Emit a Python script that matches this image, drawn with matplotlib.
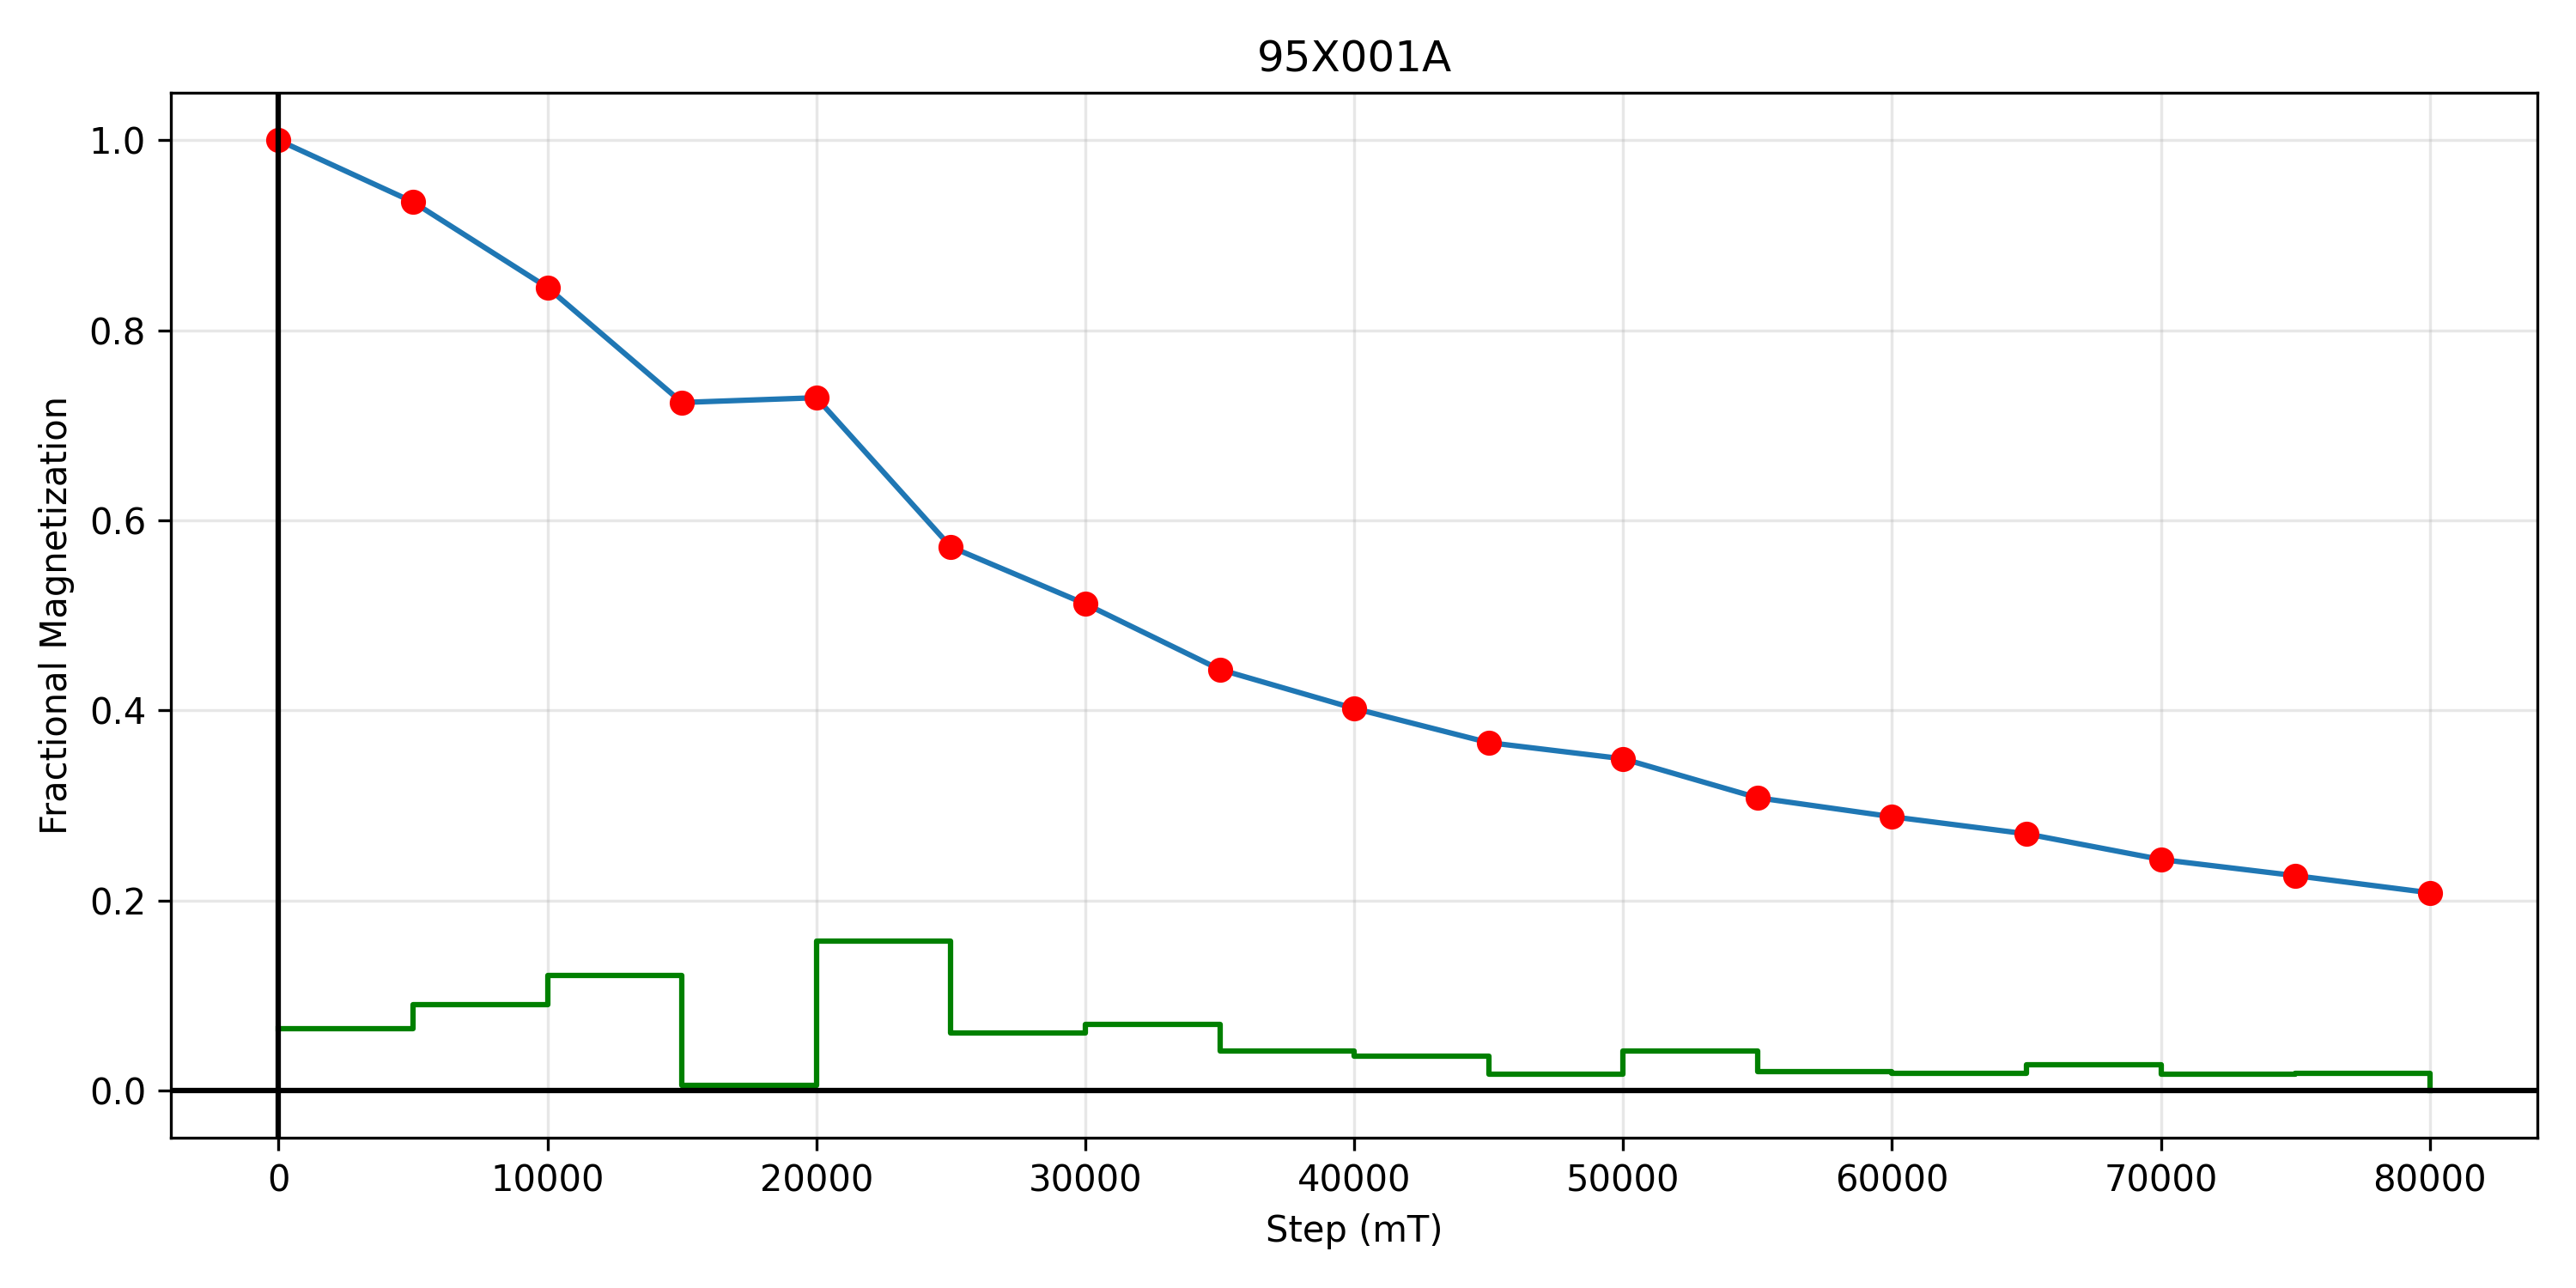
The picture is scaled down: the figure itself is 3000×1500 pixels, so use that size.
import numpy as np
import matplotlib
matplotlib.use("Agg")
import matplotlib.pyplot as plt

specimen = "95X001A"
steps = [0, 5000, 10000, 15000, 20000, 25000, 30000, 35000, 40000,
         45000, 50000, 55000, 60000, 65000, 70000, 75000, 80000]
frac_mag = [1.0, 0.935, 0.845, 0.724, 0.729, 0.572, 0.512, 0.443, 0.402,
            0.366, 0.349, 0.308, 0.288, 0.270, 0.243, 0.226, 0.208]
# step-wise loss of magnetization (last value drops to zero)
mag_loss = [0.065, 0.090, 0.121, 0.005, 0.157, 0.060, 0.069, 0.041, 0.036,
            0.017, 0.041, 0.020, 0.018, 0.027, 0.017, 0.018, 0.0]

fig, ax = plt.subplots(figsize=(10, 5), dpi=300)
ax.plot(steps, frac_mag, color="tab:blue")
ax.plot(steps, frac_mag, "o", color="red", markersize=6)
ax.step(steps, mag_loss, where="post", color="green")
ax.axhline(0, color="black")
ax.axvline(0, color="black")
ax.grid(True, alpha=0.3)
ax.set_title(specimen)
ax.set_xlabel("Step (mT)")
ax.set_ylabel("Fractional Magnetization")
plt.tight_layout()
plt.savefig("out.png")
